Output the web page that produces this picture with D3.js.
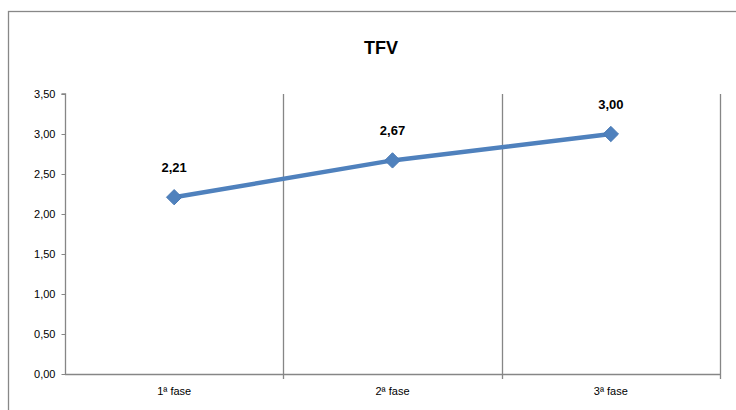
<!DOCTYPE html>
<html><head><meta charset="utf-8">
<script src="https://cdn.jsdelivr.net/npm/d3@7"></script>
<style>body{margin:0;background:#fff}svg{display:block}</style>
</head><body>
<script>
const categories = ["1ª fase", "2ª fase", "3ª fase"];
const values = [2.21, 2.67, 3.00];
const yTicks = [0, 0.5, 1, 1.5, 2, 2.5, 3, 3.5];
const title = "TFV";

const W = 736, H = 410;
const svg = d3.select("body").append("svg").attr("width", W).attr("height", H);
const font = "Liberation Sans, Arial, sans-serif";
const fmt = v => d3.format(".2f")(v).replace(".", ",");

svg.append("rect").attr("x", 8.5).attr("y", 11.5).attr("width", 760).attr("height", 420)
  .attr("fill", "#fff").attr("stroke", "#888").attr("stroke-width", 1.3);

svg.append("text").attr("x", 381).attr("y", 54).attr("text-anchor", "middle")
  .attr("font-family", font).attr("font-weight", "bold").attr("font-size", 18).text(title);

const x0 = 65, x1 = 720, yTop = 94, yBot = 374;
const x = d3.scaleBand().domain(categories).range([x0, x1]);
const y = d3.scaleLinear().domain([0, 3.5]).range([yBot, yTop]);

// vertical gridlines at category boundaries
const bounds = categories.map(c => x(c) + x.bandwidth());
svg.selectAll(".vg").data(bounds).enter().append("line")
  .attr("x1", d => Math.round(d) + 0.5).attr("x2", d => Math.round(d) + 0.5)
  .attr("y1", yTop).attr("y2", yBot + 5).attr("stroke", "#868686").attr("stroke-width", 1.3);

// y axis
const yAxis = svg.append("g").attr("transform", `translate(${x0 + 0.5},0)`)
  .call(d3.axisLeft(y).tickValues(yTicks).tickFormat(fmt).tickSize(4).tickPadding(6));
yAxis.select(".domain").attr("stroke", "#868686").attr("stroke-width", 1.3).attr("d", `M-4,${yTop}H0V${yBot}`);
yAxis.selectAll(".tick line").attr("stroke", "#868686");
yAxis.selectAll("text").attr("font-family", font).attr("font-size", 11).attr("fill", "#000");

// x axis
const xAxis = svg.append("g").attr("transform", `translate(0,${yBot + 0.5})`)
  .call(d3.axisBottom(x).tickSize(0).tickPadding(13));
xAxis.select(".domain").attr("stroke", "#868686").attr("stroke-width", 1.3).attr("d", `M${x0},0H${x1}`);
xAxis.selectAll("text").attr("font-family", font).attr("font-size", 11).attr("fill", "#000");

const pts = categories.map((c, i) => [x(c) + x.bandwidth() / 2, y(values[i])]);
svg.append("path").attr("d", d3.line()(pts)).attr("fill", "none")
  .attr("stroke", "#4f81bd").attr("stroke-width", 4.5).attr("stroke-linejoin", "round");

svg.selectAll(".mk").data(pts).enter().append("path")
  .attr("transform", d => `translate(${d[0]},${d[1]})`)
  .attr("d", d3.symbol().type(d3.symbolDiamond2).size(150))
  .attr("fill", "#4f81bd").attr("stroke", "#4a7ab5").attr("stroke-width", 1);

svg.selectAll(".lbl").data(pts).enter().append("text")
  .attr("x", d => d[0]).attr("y", d => d[1] - 25).attr("text-anchor", "middle")
  .attr("font-family", font).attr("font-weight", "bold").attr("font-size", 13)
  .text((d, i) => fmt(values[i]));
</script>
</body></html>
